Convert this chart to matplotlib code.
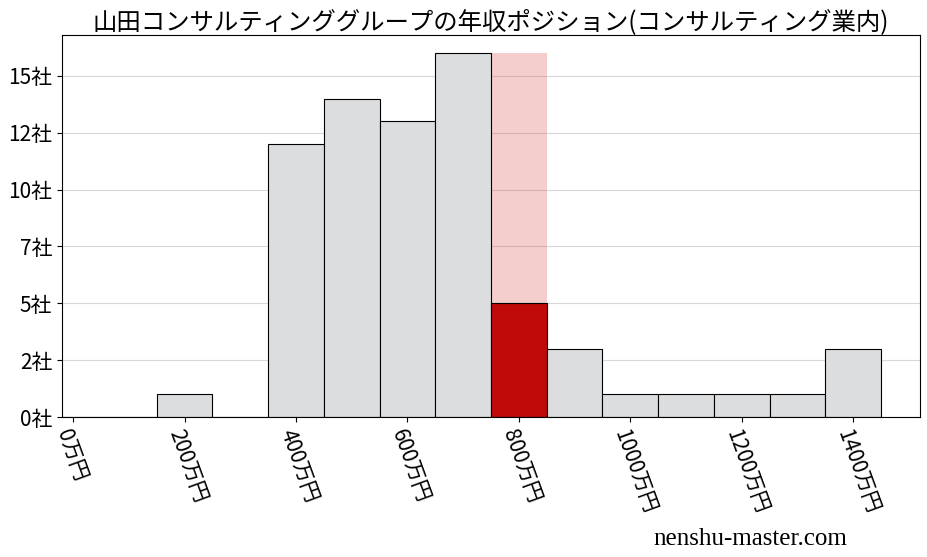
import numpy as np
import matplotlib.pyplot as plt
from matplotlib.ticker import FixedLocator, FuncFormatter

plt.rcParams['font.family'] = ['Noto Sans CJK JP', 'DejaVu Sans']

# --- データ ---
bins = [0, 100, 200, 300, 400, 500, 600, 700, 800, 900, 1000, 1100, 1200, 1300, 1400]
counts = [0, 0, 1, 0, 12, 14, 13, 16, 5, 3, 1, 1, 1, 1, 3]
highlight_bin = 800
title = "山田コンサルティンググループの年収ポジション(コンサルティング業内)"
xticks = [0, 200, 400, 600, 800, 1000, 1200, 1400]
yticks = [0, 2.5, 5, 7.5, 10, 12.5, 15]

fig = plt.figure(figsize=(9.28, 5.57), dpi=100)
ax = fig.add_axes([62 / 928, 1 - 417 / 557, 858 / 928, 382 / 557])

# 背景のハイライト(該当する帯)
ax.bar(highlight_bin, max(counts), width=100, color='#d63a3a', alpha=0.25,
       linewidth=0, zorder=1)

colors = ['#c00a0a' if b == highlight_bin else '#dcdddf' for b in bins]
ax.bar(bins, counts, width=100, color=colors, edgecolor='black',
       linewidth=0.8, zorder=2)

ax.set_xlim(-20, 1520)
ax.set_ylim(0, max(counts) * 1.05)

ax.yaxis.set_major_locator(FixedLocator(yticks))
ax.yaxis.set_major_formatter(FuncFormatter(lambda v, p: f"{int(v)}社"))
ax.set_xticks(xticks)
ax.set_xticklabels([f"{x}万円" for x in xticks])

ax.grid(axis='y', color='#d8d8d8', linewidth=0.8)
ax.set_axisbelow(True)

ax.tick_params(axis='both', labelsize=15)
for lab in ax.get_xticklabels():
    lab.set_rotation(-70)
    lab.set_ha('left')
    lab.set_va('top')
    lab.set_rotation_mode('anchor')

ax.set_title(title, fontsize=17.6, pad=4)

fig.text(847 / 928, 1 - 545 / 557, "nenshu-master.com", ha='right', va='baseline',
         fontsize=18, family='Liberation Serif')

plt.savefig('out.png', dpi=100)
